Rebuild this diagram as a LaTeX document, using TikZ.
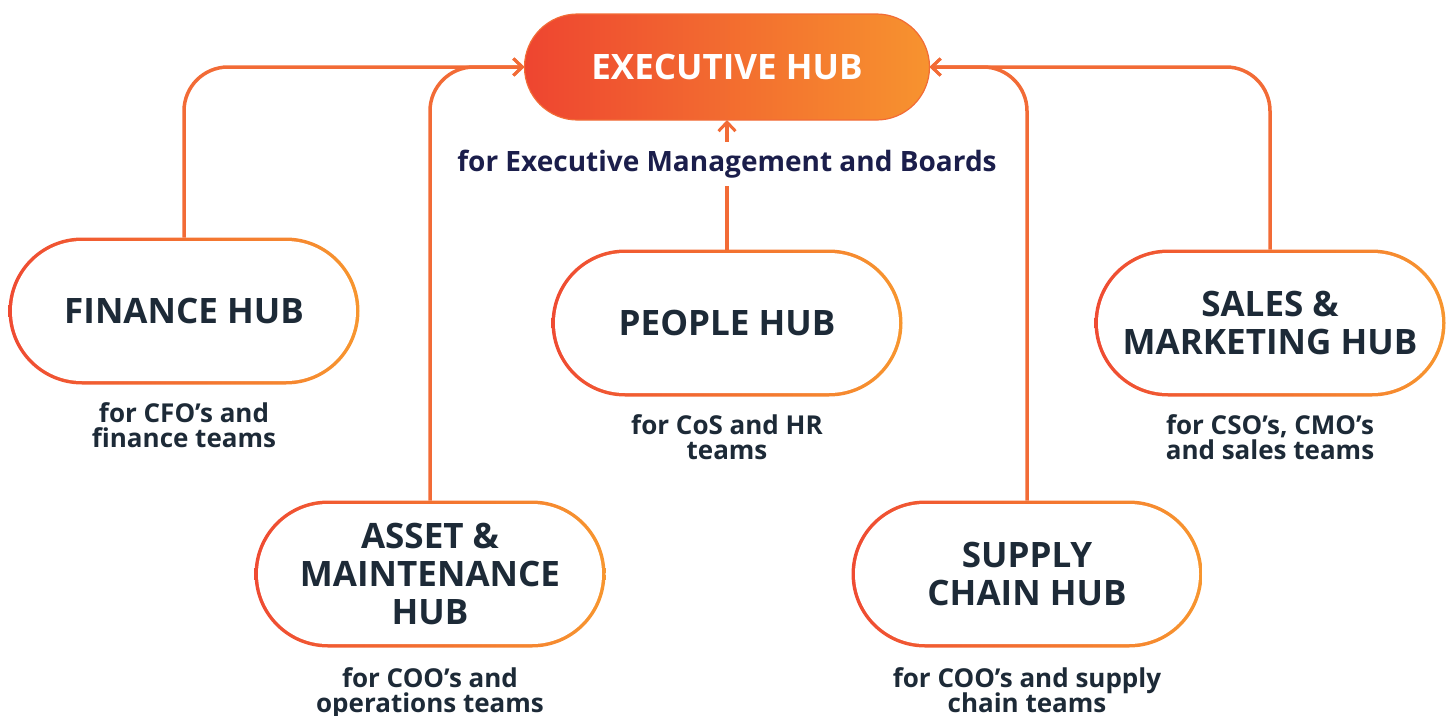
\documentclass[tikz,border=0pt]{standalone}
\usepackage{fontspec}
\setmainfont{Open Sans}
\usepackage{xcolor}
\usepackage{tikz}
\usetikzlibrary{calc}
\usetikzlibrary{positioning}
\usetikzlibrary{shapes.misc}
\usetikzlibrary{arrows.meta}

\definecolor{linecol}{HTML}{F26B36}
\definecolor{hubred}{HTML}{EF4B32}
\definecolor{huborange}{HTML}{F7962F}
\definecolor{execred}{HTML}{EE4530}
\definecolor{execorange}{HTML}{F7932F}
\definecolor{hubtext}{HTML}{1D2A37}
\definecolor{navytext}{HTML}{1B1E4B}

\newcommand{\tightlines}{\setlength{\lineskiplimit}{-30pt}}

\tikzset{
  hub/.style={rounded rectangle, minimum width=351pt, minimum height=147pt,
    inner sep=0pt, outer sep=0pt, left color=hubred, right color=huborange,
    text=hubtext, align=center, font=\fontsize{35}{38}\selectfont\bfseries,
    path picture={\fill[white, rounded corners=70pt]
      ([shift={(3.5pt,3.5pt)}]path picture bounding box.south west) rectangle
      ([shift={(-3.5pt,-3.5pt)}]path picture bounding box.north east);}},
  exec/.style={rounded rectangle, minimum width=405pt, minimum height=106pt,
    inner sep=0pt, outer sep=0pt, left color=execred, right color=execorange,
    draw=linecol, line width=1.2pt, text=white,
    font=\fontsize{35}{38}\selectfont\bfseries},
  note/.style={align=center, text=hubtext, inner sep=0pt,
    font=\fontsize{26}{25}\selectfont\bfseries\tightlines},
  execnote/.style={fill=white, text=navytext, inner xsep=4pt, inner ysep=8pt,
    font=\fontsize{28}{30}\selectfont\bfseries},
  link/.style={draw=linecol, line width=3.5pt, rounded corners=44pt,
    -{Straight Barb[length=9pt,width=17pt,line width=3pt]}}
}

\begin{document}
\begin{tikzpicture}[x=1pt,y=-1pt]
   \useasboundingbox (0,0) rectangle (1454,715);

   % hubs
   \node[exec] (exe) at (727,67) {EXECUTIVE HUB};
   \node[hub] (fin) at (184,311) {FINANCE HUB};
   \node[hub] (ast) at (430,574) {ASSET \&\\MAINTENANCE\\HUB};
   \node[hub] (ppl) at (727,323) {PEOPLE HUB};
   \node[hub] (sup) at (1027,574) {SUPPLY\\CHAIN HUB};
   \node[hub] (sal) at (1270,323) {SALES \&\\MARKETING HUB};

   % who each hub is for
   \node[note, below=18pt of fin] (finnote) {for CFO’s and\\finance teams};
   \node[note, below=20pt of ast] (astnote) {for COO’s and\\operations teams};
   \node[note, below=18pt of ppl] (pplnote) {for CoS and HR\\teams};
   \node[note, below=20pt of sup] (supnote) {for COO’s and supply\\chain teams};
   \node[note, below=18pt of sal] (salnote) {for CSO’s, CMO’s\\and sales teams};

   % links up to the executive hub
   \draw[link] (fin.north) |- (exe.west);
   \draw[link] (ast.north) |- (exe.west);
   \draw[link] (sup.north) |- (exe.east);
   \draw[link] (sal.north) |- (exe.east);
   \draw[link] (ppl.north) -- (exe.south);

   \node[execnote] (exenote) at (727,164) {for Executive Management and Boards};
\end{tikzpicture}
\end{document}
